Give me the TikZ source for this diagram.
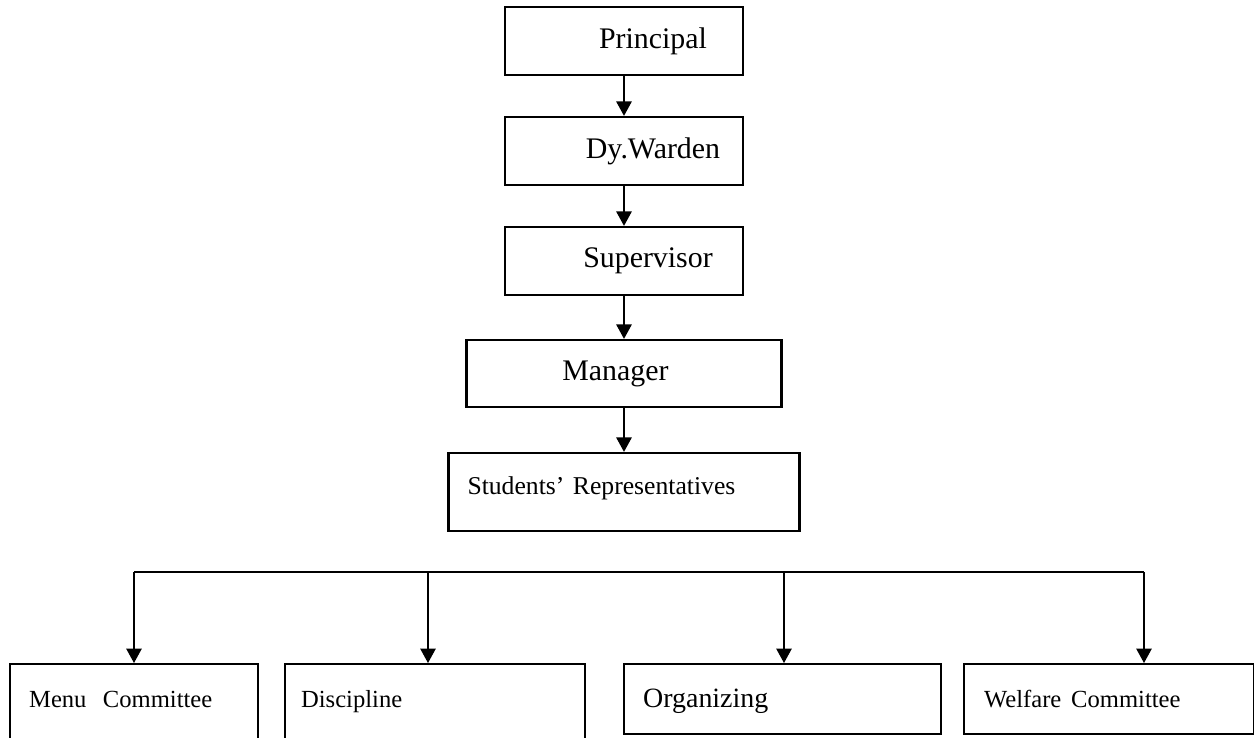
\documentclass[tikz,border=0pt]{standalone}
\usepackage{fontspec}
\setmainfont{Liberation Serif}
\usepackage{tikz}
\usetikzlibrary{shapes,arrows.meta}
\tikzstyle{post} = [rectangle, draw, line width=1.3pt,
    minimum width=4.76cm, minimum height=1.36cm, font=\fontsize{17}{20}\selectfont]
\tikzstyle{committee} = [rectangle, draw, line width=1.3pt, anchor=north west,
    align=left, inner xsep=0.38cm, inner ysep=0pt, text height=0.86cm,
    text depth=0.54cm, font=\fontsize{14}{16}\selectfont]
\tikzset{
  myarrow/.style={-{Triangle[length=0.29cm,width=0.31cm]}, line width=0.8pt},
	}

\begin{document}
\begin{tikzpicture}[node distance = 2.2cm]
    \useasboundingbox (0,0) rectangle (25.08,-14.74);
    \node[post](principal) at (12.48,-0.82){\hspace*{1.16cm}Principal};
    \node[post, below of=principal](dywarden){\hspace*{1.16cm}Dy.Warden};
    \draw[myarrow](principal.south)--(dywarden.north);
    \node[post, below of=dywarden](supervisor){\hspace*{0.96cm}Supervisor};
    \draw[myarrow](dywarden.south)--(supervisor.north);
    \node[post, below of=supervisor, yshift=-0.05cm, minimum width=6.3cm, minimum height=1.34cm](manager){Manager\hspace*{0.34cm}};
    \draw[myarrow](supervisor.south)--(manager.north);
    \node[post, below of=manager, yshift=-0.17cm, align=left, text width=6.26cm, inner xsep=0.38cm, inner ysep=0pt,
      text height=0.82cm, text depth=0.74cm, font=\fontsize{14.6}{17}\selectfont](students){Students'\ Representatives};
    \draw[myarrow](manager.south)--(students.north);
    % committees
    \coordinate (tapA) at (2.68,-11.44);
    \coordinate (tapB) at (8.56,-11.44);
    \coordinate (tapC) at (15.68,-11.44);
    \coordinate (tapD) at (22.88,-11.44);
    \draw[line width=0.8pt](tapA)--(tapD);
    \node[committee, text width=4.2cm, text depth=1.0cm](menu) at (0.18,-13.26){Menu\ \ Committee};
    \draw[myarrow](tapA)--(tapA |- menu.north);
    \node[committee, text width=5.36cm, inner xsep=0.32cm, text depth=1.0cm](discipline) at (5.68,-13.26){Discipline};
    \draw[myarrow](tapB)--(tapB |- discipline.north);
    \node[committee, text width=5.58cm, font=\fontsize{15.9}{18}\selectfont](organizing) at (12.46,-13.26){Organizing};
    \draw[myarrow](tapC)--(tapC |- organizing.north);
    \node[committee, text width=5.0cm, inner xsep=0.4cm](welfare) at (19.26,-13.26){Welfare\hspace{0.4em}Committee};
    \draw[myarrow](tapD)--(tapD |- welfare.north);
  \end{tikzpicture}
\end{document}
